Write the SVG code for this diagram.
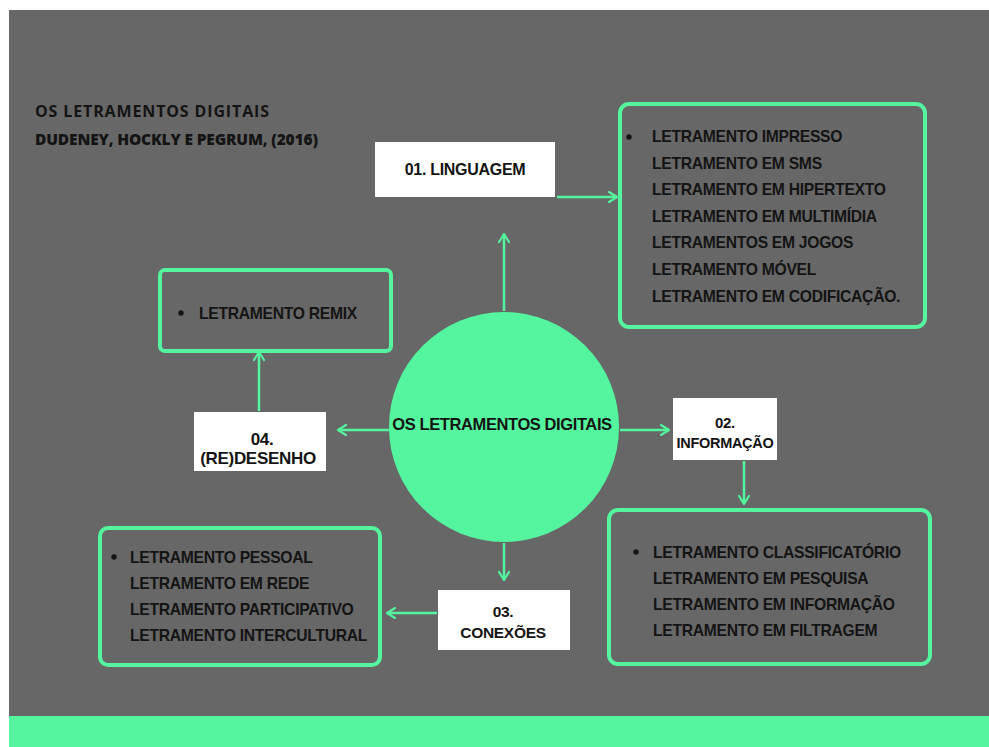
<svg xmlns="http://www.w3.org/2000/svg" width="989" height="747" viewBox="0 0 989 747">
  <defs>
    <marker id="arr" viewBox="0 0 12 12" refX="10" refY="6" markerWidth="12" markerHeight="12" markerUnits="userSpaceOnUse" orient="auto">
      <polyline points="2,1 10,6 2,11" fill="none" stroke="#55F59F" stroke-width="2.2" stroke-linecap="round" stroke-linejoin="round"/>
    </marker>
    <style>
      .bg { fill: #676767; }
      .band { fill: #55F59F; }
      .frame { fill: none; stroke: #55F59F; stroke-width: 4; }
      .wbox { fill: #ffffff; }
      .conn { stroke: #55F59F; stroke-width: 2.5; fill: none; marker-end: url(#arr); }
      .t { font-family: "Liberation Sans", Arial, sans-serif; font-weight: bold; fill: #141414; }
      .list { font-size: 15.7px; letter-spacing: -0.3px; }
      .lbl { text-anchor: middle; letter-spacing: -0.3px; }
      .title { font-family: "Open Sans", "Liberation Sans", sans-serif; fill: #141414; }
    </style>
  </defs>

  <rect x="0" y="0" width="989" height="747" fill="#ffffff"/>
  <rect class="bg" x="9" y="10" width="980" height="706"/>
  <rect class="band" x="9" y="716" width="980" height="31"/>

  <g id="title">
    <text class="title" x="35" y="117" font-size="16" font-weight="700" textLength="234" lengthAdjust="spacing">OS LETRAMENTOS DIGITAIS</text>
    <text class="title" x="35" y="145" font-size="15.5" font-weight="800" textLength="283" lengthAdjust="spacing">DUDENEY, HOCKLY E PEGRUM, (2016)</text>
  </g>

  <g id="connectors">
    <line class="conn" x1="504" y1="311" x2="504" y2="234"/>
    <line class="conn" x1="557" y1="197" x2="617" y2="197"/>
    <line class="conn" x1="391" y1="430" x2="338" y2="430"/>
    <line class="conn" x1="259" y1="411" x2="259" y2="352"/>
    <line class="conn" x1="620" y1="430" x2="669" y2="430"/>
    <line class="conn" x1="744" y1="461" x2="744" y2="504"/>
    <line class="conn" x1="504" y1="543" x2="504" y2="580"/>
    <line class="conn" x1="437" y1="613" x2="387" y2="613"/>
  </g>

  <g id="center">
    <circle cx="504" cy="427" r="115" fill="#55F59F"/>
    <text class="t" x="502" y="430" font-size="16.5" text-anchor="middle" letter-spacing="-0.4">OS LETRAMENTOS DIGITAIS</text>
  </g>

  <g id="n01">
    <rect class="wbox" x="375" y="142" width="180" height="55"/>
    <text class="t lbl" x="465" y="175" font-size="16">01. LINGUAGEM</text>
  </g>

  <g id="list01">
    <rect class="frame" x="620" y="104" width="305" height="223" rx="9"/>
    <circle cx="629" cy="137" r="2.7" fill="#141414"/>
    <text class="t list" x="652" y="142">LETRAMENTO IMPRESSO</text>
    <text class="t list" x="652" y="169">LETRAMENTO EM SMS</text>
    <text class="t list" x="652" y="195">LETRAMENTO EM HIPERTEXTO</text>
    <text class="t list" x="652" y="222">LETRAMENTO EM MULTIMÍDIA</text>
    <text class="t list" x="652" y="248">LETRAMENTOS EM JOGOS</text>
    <text class="t list" x="652" y="275">LETRAMENTO MÓVEL</text>
    <text class="t list" x="652" y="302">LETRAMENTO EM CODIFICAÇÃO.</text>
  </g>

  <g id="list04">
    <rect class="frame" x="160" y="270" width="231" height="81" rx="5"/>
    <circle cx="181" cy="313" r="2.7" fill="#141414"/>
    <text class="t list" x="199" y="319">LETRAMENTO REMIX</text>
  </g>

  <g id="n04">
    <rect class="wbox" x="194" y="412" width="132" height="59"/>
    <text class="t lbl" x="262" y="445" font-size="17">04.</text>
    <text class="t lbl" x="258" y="464" font-size="17">(RE)DESENHO</text>
  </g>

  <g id="n02">
    <rect class="wbox" x="673" y="398" width="104" height="62"/>
    <text class="t lbl" x="725" y="428" font-size="15">02.</text>
    <text class="t lbl" x="725" y="448" font-size="14.5">INFORMAÇÃO</text>
  </g>

  <g id="list02">
    <rect class="frame" x="609" y="510" width="321" height="154" rx="9"/>
    <circle cx="636" cy="552" r="2.7" fill="#141414"/>
    <text class="t list" x="653" y="558">LETRAMENTO CLASSIFICATÓRIO</text>
    <text class="t list" x="653" y="584">LETRAMENTO EM PESQUISA</text>
    <text class="t list" x="653" y="610">LETRAMENTO EM INFORMAÇÃO</text>
    <text class="t list" x="653" y="636">LETRAMENTO EM FILTRAGEM</text>
  </g>

  <g id="n03">
    <rect class="wbox" x="438" y="590" width="132" height="60"/>
    <text class="t lbl" x="503" y="617" font-size="15.5">03.</text>
    <text class="t lbl" x="503" y="638" font-size="15.5">CONEXÕES</text>
  </g>

  <g id="list03">
    <rect class="frame" x="100" y="528" width="280" height="137" rx="8"/>
    <circle cx="114" cy="557" r="2.7" fill="#141414"/>
    <text class="t list" x="130" y="563">LETRAMENTO PESSOAL</text>
    <text class="t list" x="130" y="589">LETRAMENTO EM REDE</text>
    <text class="t list" x="130" y="615">LETRAMENTO PARTICIPATIVO</text>
    <text class="t list" x="130" y="641">LETRAMENTO INTERCULTURAL</text>
  </g>
</svg>
